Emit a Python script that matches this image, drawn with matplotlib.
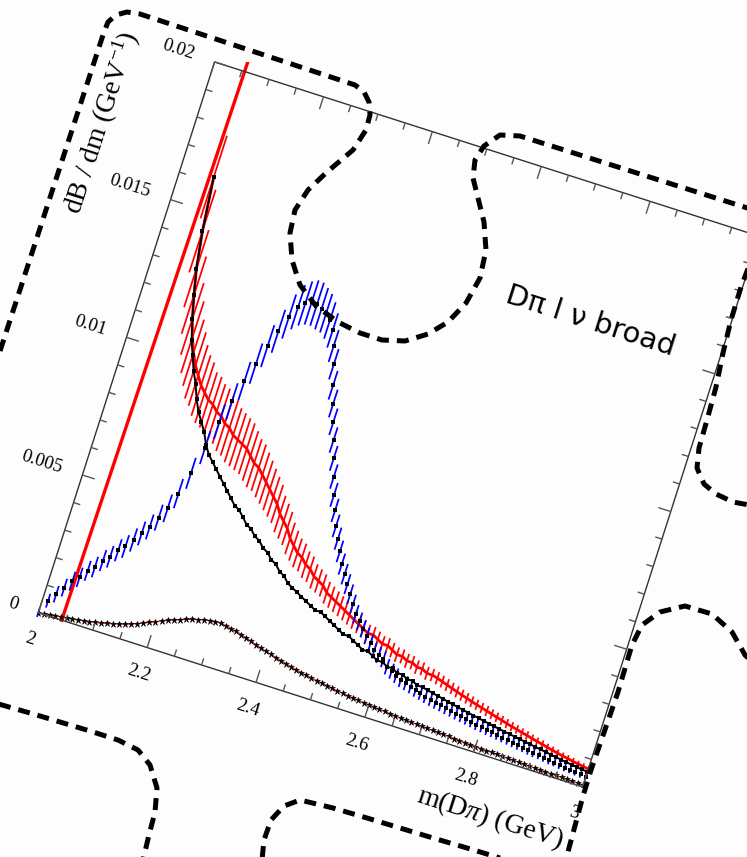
import numpy as np
import matplotlib
matplotlib.use("Agg")
import matplotlib.pyplot as plt
from matplotlib.collections import LineCollection
from matplotlib.patches import Rectangle
from matplotlib.transforms import Affine2D

plt.rcParams['mathtext.fontset'] = 'custom'
plt.rcParams['mathtext.rm'] = 'Liberation Serif'
plt.rcParams['mathtext.it'] = 'Liberation Serif:italic'

# m(D pi) grid, GeV
mass = np.round(np.arange(2.0, 3.0001, 0.01), 2)

# steep red edge at threshold
red_edge_x = [2.043, 2.056]
red_edge_y = [0.0, 0.0215]

# red band (central value + half width), from m = 2.06
red_y = [0.0162, 0.0143, 0.0130, 0.0121, 0.0113, 0.0107, 0.0102, 0.0098, 0.0095, 0.0092,
         0.0090, 0.0088, 0.0087, 0.0085, 0.0084, 0.0082, 0.0081, 0.0079, 0.0078, 0.0077,
         0.0076, 0.0074, 0.0072, 0.0071, 0.0069, 0.0067, 0.0065, 0.0063, 0.0061, 0.0058,
         0.0056, 0.0054, 0.0051, 0.0049, 0.0047, 0.0046, 0.0044, 0.0043, 0.0041, 0.0040,
         0.0039, 0.0037, 0.0036, 0.0035, 0.0034, 0.0033, 0.0032, 0.0031, 0.0030, 0.0029,
         0.0028, 0.0028, 0.0027, 0.0026, 0.0026, 0.0025, 0.0024, 0.0024, 0.0023, 0.0023,
         0.0022, 0.0022, 0.0021, 0.0021, 0.00205, 0.00199, 0.00193, 0.00187, 0.00181, 0.00175,
         0.00170, 0.00164, 0.00159, 0.00154, 0.00149, 0.00144, 0.00139, 0.00134, 0.00129, 0.00124,
         0.00120, 0.00115, 0.00111, 0.00106, 0.00102, 0.00098, 0.00093, 0.00089, 0.00085, 0.00081,
         0.00078, 0.00074, 0.00071, 0.00068, 0.00065]
red_err = [0.0015, 0.0015, 0.0014, 0.0014, 0.0013,
           0.0013, 0.0012, 0.0012, 0.0011, 0.0011, 0.0011, 0.0010, 0.0010, 0.0010, 0.0010,
           0.0010, 0.0010, 0.00098, 0.00096, 0.00094, 0.00092, 0.0009, 0.00087, 0.00084, 0.00081,
           0.00078, 0.00075, 0.00072, 0.00069, 0.00066, 0.00063, 0.0006, 0.00057, 0.00054, 0.00052,
           0.0005, 0.00048, 0.00046, 0.00044, 0.00042, 0.0004, 0.00039, 0.00038, 0.00037, 0.00036,
           0.00035, 0.00034, 0.00033, 0.00032, 0.00031, 0.0003, 0.00029, 0.00028, 0.00028, 0.00027,
           0.00026, 0.00026, 0.00025, 0.00025, 0.00024, 0.00024, 0.00023, 0.00023, 0.00022, 0.00022,
           0.00021, 0.00021, 0.0002, 0.0002, 0.0002, 0.00019, 0.00019, 0.00018, 0.00018, 0.00018,
           0.00017, 0.00017, 0.00016, 0.00016, 0.00016, 0.00015, 0.00015, 0.00015, 0.00014, 0.00014,
           0.00014, 0.00013, 0.00013, 0.00013, 0.00012, 0.00012, 0.00012, 0.00011, 0.00011, 0.00011]

# black points, from m = 2.06
black_y = [0.0162, 0.0143, 0.0130, 0.0121, 0.0113, 0.0106, 0.0101, 0.0096, 0.0092, 0.0087,
           0.0083, 0.0080, 0.0077, 0.0073, 0.0070, 0.0068, 0.0066, 0.0064, 0.0062, 0.0060,
           0.0058, 0.0056, 0.0055, 0.0053, 0.0051, 0.0050, 0.0048, 0.0047, 0.0045, 0.0044,
           0.0042, 0.0041, 0.0039, 0.0038, 0.0036, 0.0035, 0.0034, 0.0033, 0.0032, 0.0031,
           0.0030, 0.0030, 0.0029, 0.0028, 0.0027, 0.0026, 0.0025, 0.0025, 0.0024, 0.0023,
           0.0022, 0.0022, 0.0021, 0.0020, 0.0020, 0.0019, 0.0019, 0.0018, 0.0018, 0.0017,
           0.0017, 0.0016, 0.0016, 0.00155, 0.00151, 0.00147, 0.00143, 0.00139, 0.00135, 0.00131,
           0.00127, 0.00124, 0.00120, 0.00117, 0.00113, 0.00110, 0.00106, 0.00103, 0.00100, 0.00097,
           0.00094, 0.00091, 0.00088, 0.00085, 0.00082, 0.00079, 0.00076, 0.00073, 0.00070, 0.00067,
           0.00064, 0.00062, 0.00059, 0.00057, 0.00055]

# blue band, from m = 2.00
blue_y = [0.0000, 0.0005, 0.0008, 0.0011, 0.0014, 0.0016, 0.0019, 0.0021, 0.0024, 0.0026,
          0.0029, 0.0031, 0.0034, 0.0037, 0.0040, 0.0044, 0.0048, 0.0054, 0.0062, 0.0072,
          0.0082, 0.0090, 0.0098, 0.0105, 0.0112, 0.0118, 0.0124, 0.0128, 0.0130, 0.0131,
          0.0131, 0.0130, 0.0129, 0.0127, 0.0124, 0.0119, 0.0113, 0.0106, 0.0100, 0.0094,
          0.0088, 0.0082, 0.0076, 0.0070, 0.0065, 0.0060, 0.0056, 0.0052, 0.0048, 0.0045,
          0.0042, 0.0039, 0.0036, 0.0033, 0.0031, 0.0029, 0.0027, 0.0025, 0.0023, 0.0022,
          0.0021, 0.0019, 0.0018, 0.0017, 0.0016, 0.00155, 0.00149, 0.00143, 0.00137, 0.00132,
          0.00127, 0.00123, 0.00119, 0.00115, 0.00111, 0.00107, 0.00104, 0.00100, 0.00097, 0.00093,
          0.00090, 0.00087, 0.00084, 0.00081, 0.00078, 0.00075, 0.00072, 0.00069, 0.00066, 0.00063,
          0.00060, 0.00058, 0.00055, 0.00052, 0.00050, 0.00047, 0.00045, 0.00043, 0.00041, 0.00039,
          0.00037]
blue_err = [0.00015, 0.00025, 0.0003, 0.00032, 0.00034, 0.00035, 0.00036, 0.00037, 0.00038, 0.00039,
            0.0004, 0.00041, 0.00042, 0.00043, 0.00045, 0.00047, 0.0005, 0.00053, 0.00056, 0.0006,
            0.00063, 0.00066, 0.0007, 0.00073, 0.00076, 0.00078, 0.0008, 0.0008, 0.0008, 0.0008,
            0.00078, 0.00075, 0.0007, 0.00066, 0.00062, 0.00058, 0.00055, 0.00052, 0.0005, 0.00048,
            0.00046, 0.00045, 0.00044, 0.00043, 0.00042, 0.00041, 0.0004, 0.00039, 0.00038, 0.00037,
            0.00036, 0.00035, 0.00034, 0.00033, 0.00032, 0.00031, 0.0003, 0.0003, 0.00029, 0.00029,
            0.00028, 0.00028, 0.00027, 0.00026, 0.00025, 0.00025, 0.00024, 0.00024, 0.00023, 0.00023,
            0.00022, 0.00022, 0.00021, 0.00021, 0.0002, 0.0002, 0.0002, 0.00019, 0.00019, 0.00019,
            0.00018, 0.00018, 0.00017, 0.00017, 0.00017, 0.00016, 0.00016, 0.00016, 0.00015, 0.00015,
            0.00015, 0.00014, 0.00014, 0.00014, 0.00013, 0.00013, 0.00013, 0.00012, 0.00012, 0.00012,
            0.00012]

# small component (stars on thin red line), from m = 2.00
small_y = [0.00000, 0.00003, 0.00006, 0.00008, 0.00010, 0.00012, 0.00015, 0.00018, 0.00021, 0.00024,
           0.00028, 0.00032, 0.00037, 0.00042, 0.00047, 0.00053, 0.00060, 0.00068, 0.00076, 0.00085,
           0.00094, 0.00103, 0.00111, 0.00119, 0.00127, 0.00134, 0.00140, 0.00146, 0.00151, 0.00155,
           0.00157, 0.00157, 0.00155, 0.00151, 0.00147, 0.00142, 0.00136, 0.00130, 0.00124, 0.00118,
           0.00113, 0.00108, 0.00103, 0.00098, 0.00093, 0.00088, 0.00084, 0.00080, 0.00076, 0.00073,
           0.00070, 0.00067, 0.00064, 0.00061, 0.00058, 0.00056, 0.00053, 0.00051, 0.00049, 0.00047,
           0.00045, 0.00043, 0.00041, 0.00040, 0.00038, 0.00037, 0.00035, 0.00034, 0.00033, 0.00031,
           0.00030, 0.00029, 0.00028, 0.00027, 0.00026, 0.00025, 0.00024, 0.00023, 0.00022, 0.00021,
           0.00020, 0.00019, 0.00018, 0.00018, 0.00017, 0.00016, 0.00015, 0.00015, 0.00014, 0.00013,
           0.00013, 0.00012, 0.00011, 0.00011, 0.00010, 0.00010, 0.00009, 0.00009, 0.00008, 0.00008,
           0.00007]

x_major = [2.0, 2.2, 2.4, 2.6, 2.8, 3.0]
x_labels = ['2', '2.2', '2.4', '2.6', '2.8', '3']
y_major = [0.0, 0.005, 0.01, 0.015, 0.02]
y_labels = ['0', '0.005', '0.01', '0.015', '0.02']
x_minor = np.arange(2.0, 3.0001, 0.05)
y_minor = np.arange(0.0, 0.02001, 0.001)

# dashed puzzle-piece outline, in figure pixels (y down)
outline_parts = [
    [(0, 351), (103, 35), (108, 22), (116, 15), (127, 12), (140, 14), (355, 85), (364, 92),
     (369, 102), (370, 115), (366, 130), (353, 150), (327, 172), (308, 190), (295, 210),
     (290, 233), (292, 260), (300, 285), (316, 306), (338, 322), (360, 333), (382, 340),
     (405, 341), (428, 334), (448, 322), (466, 303), (480, 278), (486, 250), (484, 222),
     (478, 198), (473, 178), (475, 160), (484, 146), (500, 135), (520, 136), (760, 212)],
    [(757, 245), (741, 287), (731, 320), (723, 353), (716, 387), (707, 420), (699, 448),
     (697, 468), (704, 484), (716, 494), (733, 502), (760, 507)],
    [(760, 670), (745, 655), (732, 632), (712, 614), (685, 606), (660, 612), (642, 625),
     (632, 645), (626, 665), (618, 692), (609, 718), (600, 744), (591, 770), (583, 796),
     (576, 822), (569, 848), (566, 860)],
    [(262, 860), (264, 840), (271, 820), (284, 806), (300, 800), (333, 808), (367, 818),
     (400, 828), (433, 838), (467, 848), (500, 858), (510, 861)],
    [(-5, 703), (30, 713), (60, 722), (90, 731), (118, 740), (138, 750), (150, 765),
     (157, 788), (155, 812), (149, 835), (143, 860)],
]

W, H = 747, 857
fig = plt.figure(figsize=(W / 100, H / 100), dpi=100)
fig.patch.set_facecolor('#fdfdfd')
ax = fig.add_axes([0, 0, 1, 1])
ax.set_xlim(0, W)
ax.set_ylim(H, 0)
ax.axis('off')

# the plot frame is tilted clockwise on the page
tilt = 17.75
c, s = np.cos(np.radians(tilt)), np.sin(np.radians(tilt))
ox, oy = 38.3, 612.7
px_x = 571.5          # pixels per GeV
px_y = 578.3 / 0.02   # pixels per unit of dB/dm
frame = Affine2D().translate(-2.0, 0.0).scale(px_x, px_y) + \
    Affine2D(np.array([[c, s, ox], [s, -c, oy], [0.0, 0.0, 1.0]]))
tr = frame + ax.transData

clip = Rectangle((2.0, 0.0), 1.0, 0.02, transform=tr)

m_red = mass[6:]


def bars(xv, yv, ev, color, z):
    segs = [[(a, b - e), (a, b + e)] for a, b, e in zip(xv, yv, ev)]
    lc = LineCollection(segs, colors=color, linewidths=1.25, transform=tr, zorder=z)
    lc.set_clip_path(clip)
    ax.add_collection(lc, autolim=False)


def curve(xv, yv, **kw):
    ln, = ax.plot(xv, yv, transform=tr, **kw)
    ln.set_clip_path(clip)


bars(m_red, red_y, red_err, '#ff0000', 2)
curve(red_edge_x, red_edge_y, color='#ff0000', lw=2.4, zorder=3)
curve(m_red, red_y, color='#ff0000', lw=2.0, zorder=3)
bars(mass, blue_y, blue_err, '#0000ff', 4)
curve(m_red, black_y, color='black', lw=1.4, marker='s', ms=3.4, mew=0, zorder=5)
curve(mass, blue_y, color='none', marker='s', ms=3.4, mew=0, mfc='black', zorder=5)
curve(mass, small_y, color='#ff0000', lw=0.8, zorder=5)
curve(mass, small_y, color='none', marker='*', ms=5, mfc='black', mec='black', mew=0.4, zorder=6)

# frame and inward ticks
ax.add_patch(Rectangle((2.0, 0.0), 1.0, 0.02, transform=tr, fill=False,
                       ec='#333333', lw=1.0, zorder=7))
ticks = []
for xv in x_minor:
    ln = 13 if any(abs(xv - t) < 1e-6 for t in x_major) else 7
    ticks.append([(xv, 0.0), (xv, ln / px_y)])
    ticks.append([(xv, 0.02), (xv, 0.02 - ln / px_y)])
for yv in y_minor:
    ln = 13 if any(abs(yv - t) < 1e-9 for t in y_major) else 7
    ticks.append([(2.0, yv), (2.0 + ln / px_x, yv)])
    ticks.append([(3.0, yv), (3.0 - ln / px_x, yv)])
ax.add_collection(LineCollection(ticks, colors='#555555', linewidths=1.0,
                                 transform=tr, zorder=7), autolim=False)

for xv, lab in zip(x_major, x_labels):
    ax.text(xv, -19 / px_y, lab, transform=tr, rotation=-tilt, rotation_mode='anchor',
            ha='center', va='top', fontsize=13.5, family='Liberation Serif', zorder=8)
for yv, lab in zip(y_major, y_labels):
    ax.text(2.0 - 22 / px_x, yv, lab, transform=tr, rotation=-tilt, rotation_mode='anchor',
            ha='right', va='center', fontsize=13.5, family='Liberation Serif', zorder=8)

ax.text(1.845, 0.0168, 'dB / dm (GeV$^{-1}$)', transform=tr, rotation=90 - tilt,
        rotation_mode='anchor', ha='center', va='center', fontsize=20,
        family='Liberation Serif', zorder=8)
ax.text(2.862, -0.002, r'm(D$\pi$) (GeV)', transform=tr, rotation=-tilt,
        rotation_mode='anchor', ha='center', va='center', fontsize=20,
        family='Liberation Serif', zorder=8)
ax.text(2.764, 0.0154, 'D\u03c0 l \u03bd broad', transform=tr, rotation=-tilt,
        rotation_mode='anchor', ha='center', va='center', fontsize=21,
        family='DejaVu Sans', zorder=8)

for part in outline_parts:
    px, py = zip(*part)
    ax.plot(px, py, color='black', lw=3.6, linestyle=(0, (2.4, 1.6)),
            solid_capstyle='butt', dash_capstyle='butt', zorder=10)

ax.set_xlim(0, W)
ax.set_ylim(H, 0)
fig.savefig('out.png', dpi=100, facecolor=fig.get_facecolor())
